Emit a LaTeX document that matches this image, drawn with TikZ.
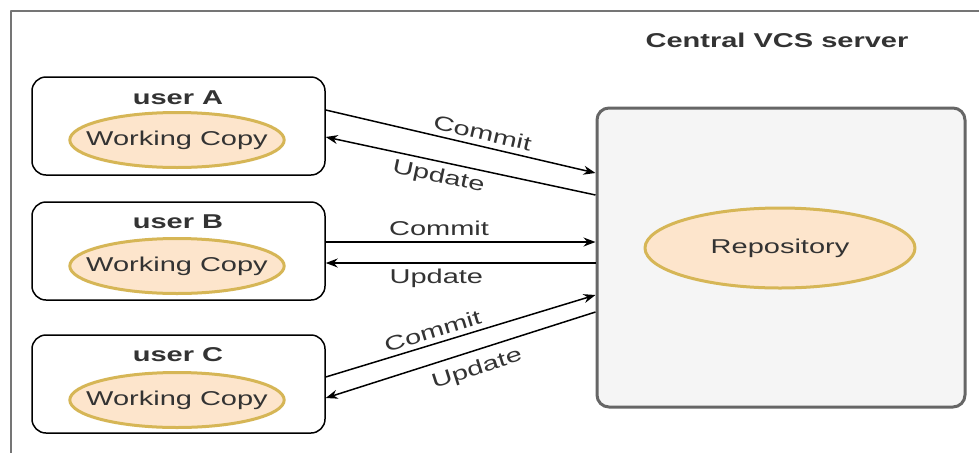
\documentclass[tikz,border=0pt]{standalone}
\usepackage{fontspec}
\setmainfont[FakeStretch=1.45]{Liberation Sans}
\usetikzlibrary{arrows.meta,shapes.geometric}
\definecolor{wcfill}{HTML}{FDE5CC}
\definecolor{wcline}{HTML}{D6B656}
\definecolor{srvfill}{HTML}{F5F5F5}
\definecolor{srvline}{HTML}{666666}
\definecolor{txtgray}{HTML}{333333}

\begin{document}
\begin{tikzpicture}[x=1pt,y=-1pt,>={Stealth[length=12pt,width=9pt]},line join=round,
  font=\fontsize{20}{24}\selectfont,
  userbox/.style={draw=black,line width=1.5pt,rounded corners=14pt,fill=white,minimum width=293pt,minimum height=98pt},
  wcopy/.style={ellipse,draw=wcline,line width=3pt,fill=wcfill,text=txtgray,minimum width=214pt,minimum height=55pt,inner ysep=0pt,inner xsep=-15pt},
  uname/.style={font=\fontsize{20}{24}\selectfont\bfseries,text=txtgray},
  flow/.style={->,line width=1.5pt},
  lbl/.style={text=txtgray,sloped,inner sep=1.5pt}]
  \useasboundingbox (0,0) rectangle (979,453);
  \draw[srvline!90,line width=2.5pt] (979,11) -- (11,11) -- (11,453);

  % server side
  \node[uname] (title) at (777,40) {Central VCS server};
  \node[draw=srvline,line width=3pt,fill=srvfill,rounded corners=12pt,minimum width=368pt,minimum height=299pt] (server) at (781,257.5) {};
  \node[wcopy,minimum width=270pt,minimum height=80pt] (repo) at (780,248) {Repository};

  % users
  \node[userbox] (userA) at (178.5,126) {};
  \node[uname] (nameA) at (178,98) {user A};
  \node[wcopy] (wcA) at (177,140) {Working Copy};

  \node[userbox] (userB) at (178.5,251) {};
  \node[uname] (nameB) at (178,222) {user B};
  \node[wcopy] (wcB) at (177,266) {Working Copy};

  \node[userbox] (userC) at (178.5,384) {};
  \node[uname] (nameC) at (178,355) {user C};
  \node[wcopy] (wcC) at (177,400) {Working Copy};

  % commit / update
  \draw[flow] ([yshift=16pt]userA.east) -- node[lbl,above=4pt,pos=0.57] {Commit} ([yshift=84.5pt]server.west);
  \draw[flow] ([yshift=62.5pt]server.west) -- node[lbl,below=4pt,pos=0.57] {Update} ([yshift=-11pt]userA.east);

  \draw[flow] ([yshift=9pt]userB.east) -- node[lbl,above=4pt,pos=0.42] {Commit} ([yshift=15.5pt]server.west);
  \draw[flow] ([yshift=-5.5pt]server.west) -- node[lbl,below=4pt,pos=0.59] {Update} ([yshift=-12pt]userB.east);

  \draw[flow] ([yshift=7pt]userC.east) -- node[lbl,above=3pt,pos=0.41] {Commit} ([yshift=-37.5pt]server.west);
  \draw[flow] ([yshift=-54.5pt]server.west) -- node[lbl,below=7pt,pos=0.46] {Update} ([yshift=-14pt]userC.east);
\end{tikzpicture}
\end{document}
